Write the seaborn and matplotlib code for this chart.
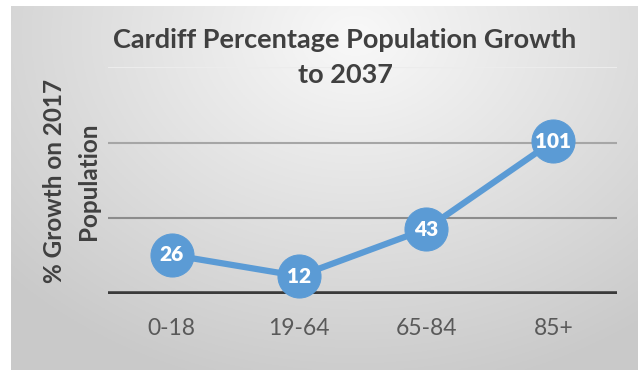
import numpy as np
import pandas as pd
import matplotlib
matplotlib.use("Agg")
import matplotlib.pyplot as plt
import seaborn as sns

categories = ["0-18", "19-64", "65-84", "85+"]
growth = [26, 12, 43, 101]
title_lines = ["Cardiff Percentage Population Growth", "to 2037"]
ylabel_lines = ["% Growth on 2017", "Population"]

sns.set_theme(style="white")
plt.rcParams["font.family"] = ["Lato", "DejaVu Sans"]

W, H = 638, 370
fig = plt.figure(figsize=(W / 100, H / 100), dpi=100)
fig.patch.set_facecolor("white")

# gradient background panel
bg = fig.add_axes([11 / W, 0, 1 - 11 / W, (H - 6) / H], zorder=0)
gx, gy = np.meshgrid(np.linspace(0, 1, 300), np.linspace(0, 1, 200))
d = np.sqrt(((gx - 0.55) * 1.0) ** 2 + ((gy - 0.08) * 0.75) ** 2)
d = np.clip(d / 0.75, 0, 1)
c0, c1 = 0.975, 0.79
val = c0 + (c1 - c0) * d
bg.imshow(np.dstack([val, val, val]), aspect="auto", extent=[0, 1, 1, 0], origin="upper")
bg.set_axis_off()

ax = fig.add_axes([108 / W, 1 - 294.3 / H, (617 - 108) / W, (294.3 - 66.7) / H], zorder=1)
ax.patch.set_alpha(0)

df = pd.DataFrame({"Age": categories, "Growth": growth})
sns.lineplot(data=df, x="Age", y="Growth", ax=ax, color="#5B9BD5", linewidth=4.5,
             marker="o", markersize=31, markeredgecolor="#5B9BD5", clip_on=False, zorder=5)
for line in ax.lines:
    line.set_clip_on(False)

ax.set_ylim(0, 150)
ax.set_xlim(-0.5, len(categories) - 0.5)
ax.set_yticks([0, 50, 100, 150])
ax.set_yticklabels([])
ax.tick_params(axis="y", length=0)
ax.axhline(150, color="#ececec", lw=1.5, zorder=1)
ax.axhline(100, color="#a6a6a6", lw=1.5, zorder=1)
ax.axhline(50, color="#8c8c8c", lw=1.5, zorder=1)
ax.axhline(0, color="#3a3a3a", lw=4, zorder=2)
for s in ax.spines.values():
    s.set_visible(False)

ax.set_xlabel("")
ax.set_ylabel("")
ax.tick_params(axis="x", length=0, pad=17, labelsize=16.5, labelcolor="#595959")

for i, v in enumerate(growth):
    ax.text(i, v, str(v), ha="center", va="center", color="white",
            fontsize=15, fontweight="heavy", zorder=10)

fig.text(345 / W, 1 - 40 / H, title_lines[0], ha="center", va="center",
         fontsize=19.5, fontweight="bold", color="#404040")
fig.text(345 / W, 1 - 75 / H, title_lines[1], ha="center", va="center",
         fontsize=19.5, fontweight="bold", color="#404040")

fig.text(55 / W, 1 - 181 / H, ylabel_lines[0], ha="center", va="center", rotation=90,
         fontsize=17.5, fontweight="bold", color="#404040")
fig.text(88 / W, 1 - 181 / H, ylabel_lines[1], ha="center", va="center", rotation=90,
         fontsize=17.5, fontweight="bold", color="#404040")

fig.savefig("out.png", dpi=100)
